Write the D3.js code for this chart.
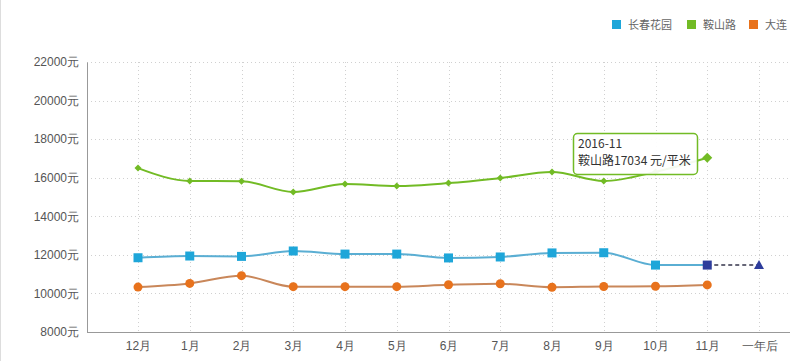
<!DOCTYPE html>
<html><head><meta charset="utf-8">
<script src="https://cdn.jsdelivr.net/npm/d3@7/dist/d3.min.js"></script>
<style>body{margin:0;background:#fff;}svg{display:block;font-family:"Noto Sans CJK SC","Open Sans",sans-serif;}</style>
</head><body><svg id="c" width="800" height="361"></svg>
<script>
const categories = ["12月","1月","2月","3月","4月","5月","6月","7月","8月","9月","10月","11月","一年后"];
const yTicks = [8000,10000,12000,14000,16000,18000,20000,22000];
const seriesNames = ["长春花园","鞍山路","大连"];
const changchun = [11850,11940,11920,12200,12040,12040,11840,11890,12100,12110,11470,11470];
const anshan = [16500,15830,15820,15260,15670,15570,15720,15980,16290,15830,16300,17034];
const dalian = [10330,10520,10920,10350,10350,10350,10450,10500,10320,10360,10370,10440];
const forecast = [11470, 11470]; // 11月 -> 一年后
const tooltipLines = ["2016-11","鞍山路17034 元/平米"];

const svg = d3.select("#c");
const x = d3.scalePoint().domain(categories).range([138,759]);
const y = d3.scaleLinear().domain([8000,22000]).range([332,62]);
const L = 87, R = 790, B = 332;

svg.append("line").attr("x1",0.5).attr("x2",0.5).attr("y1",0).attr("y2",361).attr("stroke","#ddd");

svg.append("g").selectAll("line").data(yTicks.slice(1)).join("line")
  .attr("x1",L).attr("x2",R).attr("y1",d=>Math.round(y(d))+0.5).attr("y2",d=>Math.round(y(d))+0.5)
  .attr("stroke","#d0d0d0").attr("stroke-dasharray","1,3");
svg.append("g").selectAll("line").data(categories).join("line")
  .attr("x1",d=>Math.round(x(d))+0.5).attr("x2",d=>Math.round(x(d))+0.5).attr("y1",62).attr("y2",B)
  .attr("stroke","#d0d0d0").attr("stroke-dasharray","1,3");

const yAxis = d3.axisLeft(y).tickValues(yTicks).tickFormat(d=>d+"元").tickSize(0).tickPadding(8);
const gy = svg.append("g").attr("transform",`translate(${L},0)`).call(yAxis);
gy.select(".domain").attr("stroke","#999");
gy.selectAll("text").attr("fill","#555").style("font-size","12px");

const xAxis = d3.axisBottom(x).tickSize(0).tickPadding(9);
const gx = svg.append("g").attr("transform",`translate(0,${B+0.5})`).call(xAxis);
gx.select(".domain").remove();
gx.selectAll("text").attr("fill","#555").style("font-size","12px");
svg.append("line").attr("x1",L).attr("x2",R).attr("y1",B+0.5).attr("y2",B+0.5).attr("stroke","#999");

const line = d3.line().x((d,i)=>x(categories[i])).y(d=>y(d)).curve(d3.curveMonotoneX);

svg.append("path").attr("d",d3.line().x((d,i)=>x(categories[11+i])).y(d=>y(d))(forecast))
  .attr("fill","none").attr("stroke","#667").attr("stroke-width",2).attr("stroke-dasharray","4,3");

const defs = [
  {data:dalian, line:"#c9875a", fill:"#e8721c", shape:"circle"},
  {data:changchun, line:"#5aaed3", fill:"#1ea6d9", shape:"square"},
  {data:anshan, line:"#72bb25", fill:"#72bb25", shape:"diamond"}
];
defs.forEach(s=>{
  svg.append("path").attr("d",line(s.data)).attr("fill","none").attr("stroke",s.line).attr("stroke-width",2);
  const g = svg.append("g");
  s.data.forEach((v,i)=>{
    const cx = x(categories[i]), cy = y(v);
    if(s.shape==="circle") g.append("circle").attr("cx",cx).attr("cy",cy).attr("r",4.5).attr("fill",s.fill);
    else if(s.shape==="square") g.append("rect").attr("x",cx-4.5).attr("y",cy-4.5).attr("width",9).attr("height",9)
        .attr("fill", i===11 ? "#2e3d9c" : s.fill);
    else { const r = i===11?5:3.5; g.append("path").attr("d",`M${cx},${cy-r}L${cx+r},${cy}L${cx},${cy+r}L${cx-r},${cy}Z`).attr("fill",s.fill); }
  });
});
{
  const cx = x(categories[12]), cy = y(forecast[1]);
  svg.append("path").attr("d",`M${cx},${cy-5}L${cx+5},${cy+4}L${cx-5},${cy+4}Z`).attr("fill","#2e3d9c");
}

const tt = svg.append("g").attr("transform","translate(573,133)");
tt.append("rect").attr("x",0.5).attr("y",0.5).attr("width",124).attr("height",41).attr("rx",4)
  .attr("fill","#fff").attr("fill-opacity",0.92).attr("stroke","#72bb25").attr("stroke-width",1.5);
tt.selectAll("text").data(tooltipLines).join("text").attr("x",5).attr("y",(d,i)=>15+i*17)
  .attr("fill","#333").style("font-size","12px").text(d=>d);

const legendX = [612, 687, 749];
const legendColors = ["#1ea6d9","#72bb25","#e8721c"];
const lg = svg.append("g");
seriesNames.forEach((n,i)=>{
  lg.append("rect").attr("x",legendX[i]).attr("y",20).attr("width",9).attr("height",9).attr("fill",legendColors[i]);
  lg.append("text").attr("x",legendX[i]+16).attr("y",29).attr("fill","#666").style("font-size","11px").text(n);
});
</script></body></html>
